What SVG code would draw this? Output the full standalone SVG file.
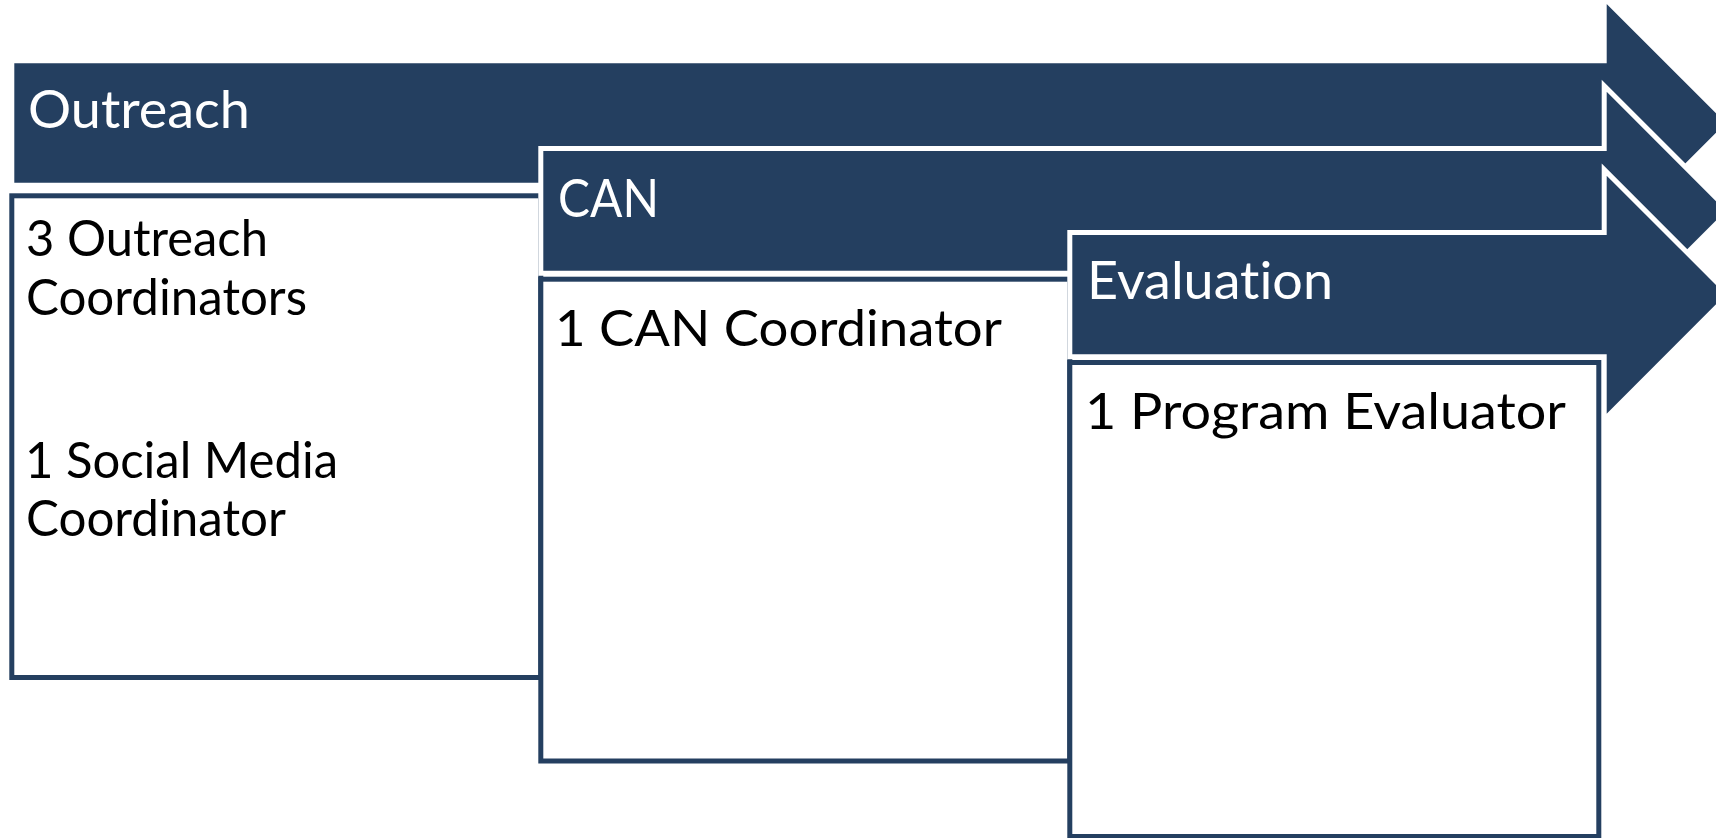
<svg xmlns="http://www.w3.org/2000/svg" width="1716" height="838" viewBox="0 0 1716 838">
  <style>
    .arrow { fill: #243f60; stroke: #ffffff; stroke-width: 5; stroke-linejoin: miter; stroke-miterlimit: 10; }
    .box { fill: #ffffff; stroke: #243f60; stroke-width: 5; stroke-linejoin: miter; }
    .head { font-family: Lato, "Liberation Sans", sans-serif; font-size: 53px; fill: #ffffff; font-variant-ligatures: none; }
    .body { font-family: Lato, "Liberation Sans", sans-serif; font-size: 50px; fill: #000000; font-variant-ligatures: none; }
  </style>
  <rect x="0" y="0" width="1716" height="838" fill="#ffffff"/>
  <g id="connectors"/>
  <g id="outreach">
    <path class="arrow" d="M11.8,60.8 H1604.2 V-2 L1729.2,123 L1604.2,248 V185.2 H11.8 Z"/>
    <rect class="box" x="11.8" y="195.8" width="529" height="481.7"/>
    <text class="head" x="28" y="128" textLength="222" lengthAdjust="spacingAndGlyphs">Outreach</text>
    <text class="body" x="26" y="256" textLength="242" lengthAdjust="spacingAndGlyphs">3 Outreach</text>
    <text class="body" x="26" y="315" textLength="281" lengthAdjust="spacingAndGlyphs">Coordinators</text>
    <text class="body" x="25" y="478" textLength="313" lengthAdjust="spacingAndGlyphs">1 Social Media</text>
    <text class="body" x="26" y="536" textLength="260" lengthAdjust="spacingAndGlyphs">Coordinator</text>
  </g>
  <g id="can">
    <path class="arrow" d="M540.8,148.5 H1604.2 V85.85 L1729.2,210.85 L1604.2,335.85 V273.2 H540.8 Z"/>
    <rect class="box" x="540.8" y="279.2" width="529" height="481.8"/>
    <text class="head" x="558" y="217" textLength="101" lengthAdjust="spacingAndGlyphs">CAN</text>
    <text class="body" x="555" y="346" textLength="447" lengthAdjust="spacingAndGlyphs">1 CAN Coordinator</text>
  </g>
  <g id="evaluation">
    <path class="arrow" d="M1069.8,232.5 H1604.2 V169.65 L1729.2,294.65 L1604.2,419.65 V356.8 H1069.8 Z"/>
    <rect class="box" x="1069.8" y="362.5" width="529" height="474"/>
    <text class="head" x="1087" y="299" textLength="246" lengthAdjust="spacingAndGlyphs">Evaluation</text>
    <text class="body" x="1085" y="429" textLength="481" lengthAdjust="spacingAndGlyphs">1 Program Evaluator</text>
  </g>
</svg>
